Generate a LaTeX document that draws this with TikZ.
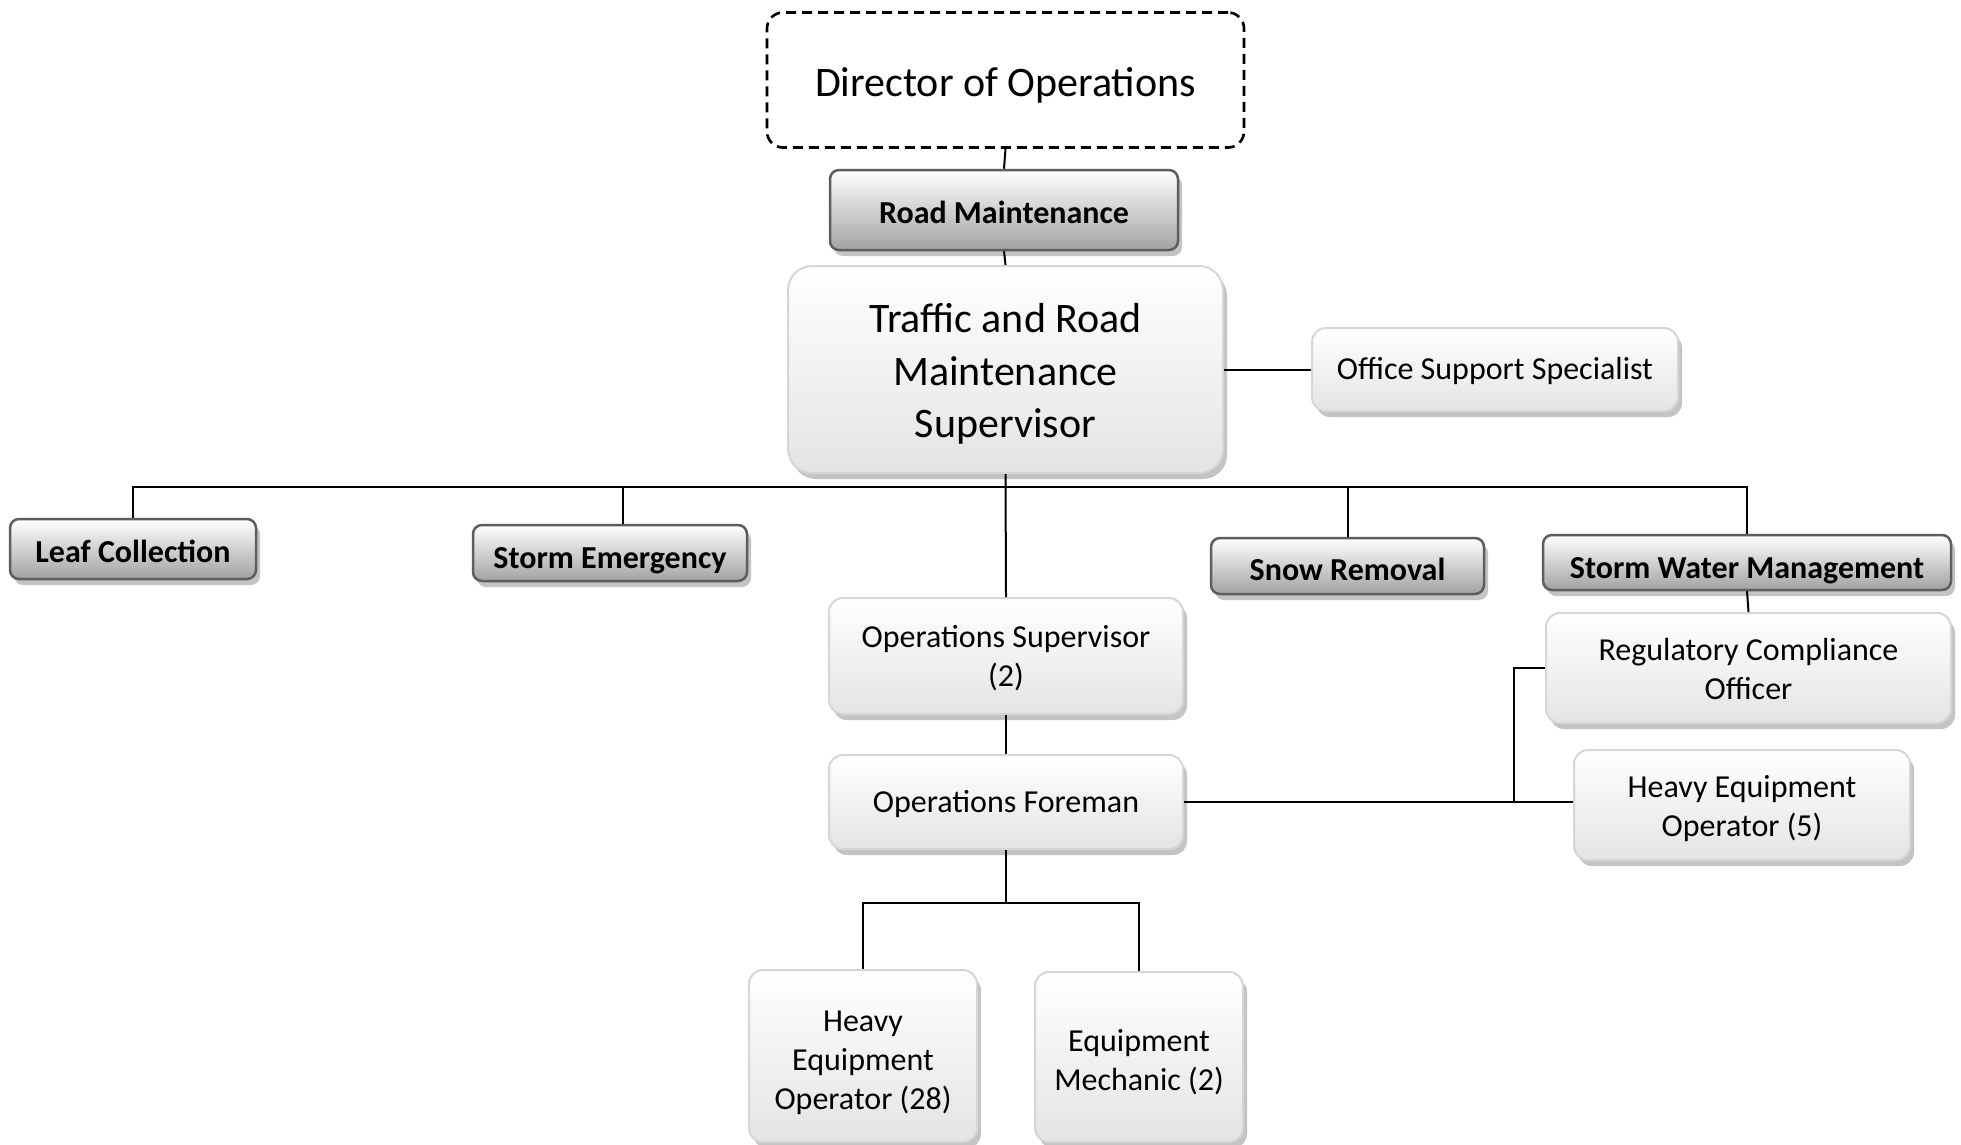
\documentclass[tikz,border=0pt]{standalone}
\usepackage{fontspec}
\setmainfont{Carlito}
\usetikzlibrary{shadows}
\definecolor{bordlight}{HTML}{D6D6D6}
\definecolor{borddark}{HTML}{5E5E5E}
\definecolor{shad}{HTML}{C4C4C4}
\definecolor{lbot}{HTML}{E4E4E4}
\definecolor{dbot}{HTML}{A2A2A2}
% text block: [half box size]{first baseline offset below centre}{lines separated by \cr}
\newcommand\tb[3][27pt]{\raisebox{0pt}[\dimexpr#1+#2\relax][\dimexpr#1-#2\relax]{\vtop{\halign{\hfil##\hfil\cr#3\crcr}}}}
\tikzset{
  lbox/.style={draw=bordlight, line width=2pt, rounded corners=14pt,
    top color=white, bottom color=lbot, inner sep=0pt,
    drop shadow={shadow xshift=4pt, shadow yshift=-6pt, fill=shad, opacity=1},
    font=\fontsize{32}{39}\selectfont},
  gbox/.style={draw=borddark, line width=2.5pt, rounded corners=9pt,
    top color=white, bottom color=dbot, inner sep=0pt,
    drop shadow={shadow xshift=4pt, shadow yshift=-6pt, fill=shad, opacity=1},
    font=\bfseries\fontsize{32}{39}\selectfont},
  dirbox/.style={draw=black, line width=2.6pt, dash pattern=on 10pt off 6pt,
    rounded corners=16pt, fill=white, inner sep=0pt,
    font=\fontsize{42}{52}\selectfont},
  conn/.style={line width=2pt, draw=black},
}
\begin{document}
\begin{tikzpicture}[x=1pt,y=-1pt]
\useasboundingbox (0,0) rectangle (1961,1145);
\fill[white] (0,0) rectangle (1961,1145);

\node[dirbox, minimum width=477pt, minimum height=135pt] (dir) at (1005.5,80) {\tb{16.2pt}{Director of Operations}};
\node[gbox, minimum width=348pt, minimum height=80pt] (rm) at (1004,210) {\tb{13pt}{Road Maintenance}};
\node[lbox, rounded corners=24pt, minimum width=435pt, minimum height=207pt,
      font=\fontsize{42}{52.5}\selectfont] (tr) at (1005.5,369.5) {\tb[45pt]{-37pt}{Traffic and Road\cr Maintenance\cr Supervisor}};
\node[lbox, minimum width=366pt, minimum height=83pt] (oss) at (1495,369.5) {\tb{10.1pt}{Office Support Specialist}};

\node[gbox, minimum width=246pt, minimum height=60pt] (lc) at (133,549) {\tb{13.4pt}{Leaf Collection}};
\node[gbox, minimum width=274pt, minimum height=56pt] (se) at (610,553) {\tb{15.9pt}{Storm Emergency}};
\node[gbox, minimum width=273pt, minimum height=56pt] (sr) at (1347.5,566) {\tb{14.5pt}{Snow Removal}};
\node[gbox, minimum width=408pt, minimum height=55pt] (swm) at (1747,562.5) {\tb{15.5pt}{Storm Water Management}};

\node[lbox, minimum width=354pt, minimum height=116pt] (os) at (1006,656) {\tb{-8.5pt}{Operations Supervisor\cr (2)}};
\node[lbox, minimum width=354pt, minimum height=94pt] (of) at (1006,802) {\tb{10.5pt}{Operations Foreman}};
\node[lbox, minimum width=405pt, minimum height=110pt] (rco) at (1748.5,668) {\tb{-7.2pt}{Regulatory Compliance\cr Officer}};
\node[lbox, minimum width=336pt, minimum height=110pt] (heo5) at (1742,805) {\tb{-7.5pt}{Heavy Equipment\cr Operator (5)}};
\node[lbox, minimum width=228pt, minimum height=172pt] (heo28) at (863,1056) {\tb{-25pt}{Heavy\cr Equipment\cr Operator (28)}};
\node[lbox, minimum width=208pt, minimum height=170pt] (em) at (1139,1057) {\tb{-6pt}{Equipment\cr Mechanic (2)}};

\coordinate (bus) at (1005.5,486.5);
\coordinate (sec) at (623,486.5);
\coordinate (elb) at (1514,802);
\coordinate (bb) at (1006,903);

\draw[conn] (dir.south) -- (rm.north);
\draw[conn] (rm.south) -- (tr.north);
\draw[conn] (tr.east) -- (oss.west);
\draw[conn] (tr.south) -- (os.north);
\draw[conn] (lc.north) -- (lc.north |- bus) -- (swm.north |- bus) -- (swm.north);
\draw[conn] (sec) -- (sec |- se.north);
\draw[conn] (sr.north) -- (sr.north |- bus);
\draw[conn] (swm.south) -- (rco.north);
\draw[conn] (os.south) -- (of.north);
\draw[conn] (of.east) -- (of.east -| heo5.west);
\draw[conn] (elb) |- (rco.west);
\draw[conn] (of.south) -- (bb);
\draw[conn] (heo28.north) -- (heo28.north |- bb) -- (em.north |- bb) -- (em.north);
\end{tikzpicture}
\end{document}
